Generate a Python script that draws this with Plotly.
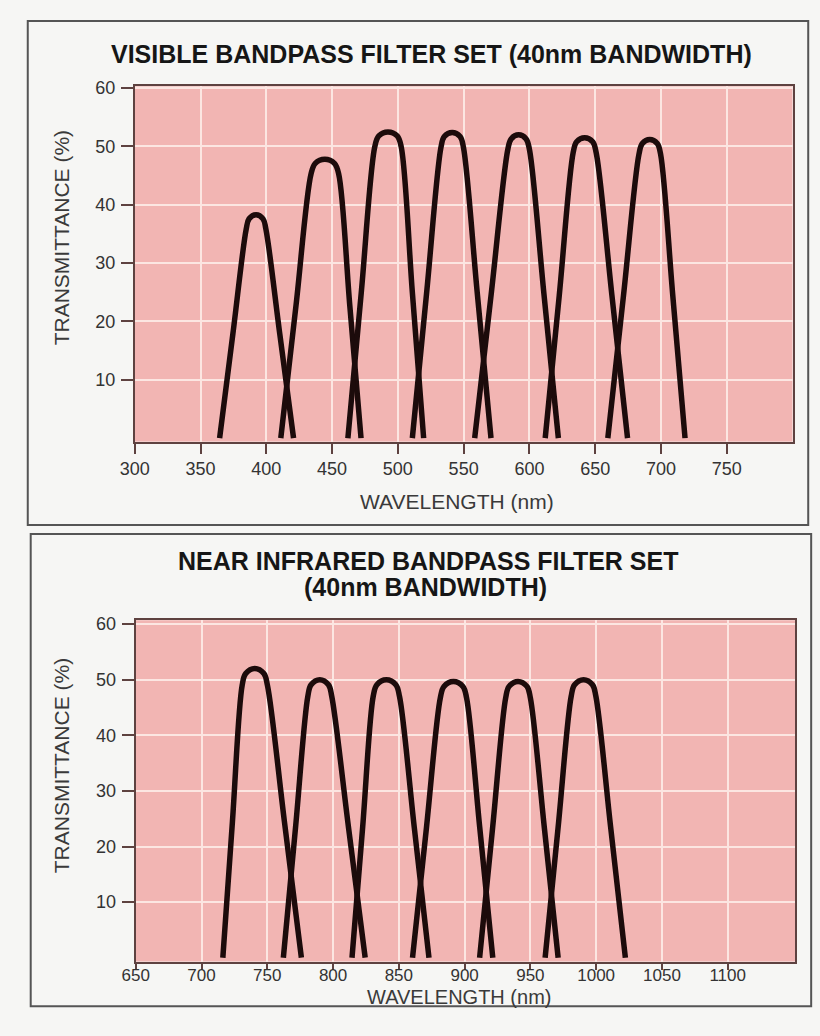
import plotly.graph_objects as go

W, H = 820, 1036

# ---------------- data ----------------
vis_ticks = [300, 350, 400, 450, 500, 550, 600, 650, 700, 750]
nir_ticks = [650, 700, 750, 800, 850, 900, 950, 1000, 1050, 1100]
y_ticks = [10, 20, 30, 40, 50, 60]

# Visible filters (wavelength nm, transmittance %)
v1_x = [364.5, 374.6, 384.7, 386.9, 392.2, 397.5, 399.7, 410.2, 420.7]
v1_y = [0, 17.9, 35.8, 37.6, 38.3, 37.6, 35.8, 17.9, 0]
v2_x = [411.0, 422.5, 434.0, 437.2, 444.5, 451.8, 455.0, 463.5, 472.0]
v2_y = [0, 22.6, 45.3, 47.1, 47.8, 47.1, 45.3, 22.6, 0]
v3_x = [462.0, 472.2, 482.5, 485.5, 492.5, 499.5, 502.5, 511.0, 519.6]
v3_y = [0, 25.0, 50.0, 51.8, 52.5, 51.8, 50.0, 25.0, 0]
v4_x = [511.0, 521.9, 532.8, 535.3, 541.3, 547.3, 549.8, 560.3, 570.8]
v4_y = [0, 25.0, 49.9, 51.7, 52.4, 51.7, 49.9, 25.0, 0]
v5_x = [558.4, 571.0, 583.6, 586.1, 591.8, 597.5, 600.0, 611.0, 622.0]
v5_y = [0, 24.8, 49.5, 51.3, 52.0, 51.3, 49.5, 24.8, 0]
v6_x = [612.0, 622.7, 633.3, 635.9, 642.0, 648.1, 650.7, 662.7, 674.6]
v6_y = [0, 24.5, 49.0, 50.8, 51.5, 50.8, 49.0, 24.5, 0]
v7_x = [659.6, 671.5, 683.3, 685.8, 691.5, 697.2, 699.7, 709.0, 718.3]
v7_y = [0, 24.4, 48.7, 50.5, 51.2, 50.5, 48.7, 24.4, 0]

# Near infrared filters
n1_x = [716.2, 723.5, 730.9, 733.6, 740.5, 747.4, 750.1, 763.0, 775.9]
n1_y = [0, 24.5, 49.0, 51.1, 52.0, 51.1, 49.0, 24.5, 0]
n2_x = [762.2, 771.5, 780.8, 783.3, 789.9, 796.5, 799.0, 811.7, 824.4]
n2_y = [0, 23.5, 47.0, 49.1, 50.0, 49.1, 47.0, 23.5, 0]
n3_x = [814.4, 822.5, 830.5, 833.3, 840.5, 847.7, 850.5, 861.7, 872.9]
n3_y = [0, 23.5, 47.0, 49.1, 50.0, 49.1, 47.0, 23.5, 0]
n4_x = [860.4, 871.0, 881.5, 884.3, 891.5, 898.7, 901.5, 911.5, 921.4]
n4_y = [0, 23.4, 46.7, 48.8, 49.7, 48.8, 46.7, 23.4, 0]
n5_x = [911.4, 921.3, 931.2, 933.8, 940.6, 947.4, 950.0, 960.6, 971.1]
n5_y = [0, 23.4, 46.7, 48.8, 49.7, 48.8, 46.7, 23.4, 0]
n6_x = [961.2, 971.1, 981.0, 983.6, 990.4, 997.2, 999.8, 1011.0, 1022.2]
n6_y = [0, 23.5, 47.0, 49.1, 50.0, 49.1, 47.0, 23.5, 0]

vis_curves = [(v1_x, v1_y), (v2_x, v2_y), (v3_x, v3_y), (v4_x, v4_y),
              (v5_x, v5_y), (v6_x, v6_y), (v7_x, v7_y)]
nir_curves = [(n1_x, n1_y), (n2_x, n2_y), (n3_x, n3_y), (n4_x, n4_y),
              (n5_x, n5_y), (n6_x, n6_y)]

title_top = "VISIBLE BANDPASS FILTER SET (40nm BANDWIDTH)"
title_bot1 = "NEAR INFRARED BANDPASS FILTER SET"
title_bot2 = "(40nm BANDWIDTH)"
x_title = "WAVELENGTH (nm)"
y_title = "TRANSMITTANCE (%)"

# ---------------- style ----------------
LINE = "#1c0b0b"
PLOT_BG = "#f2b5b3"
GRID = "#fce6e2"
AXIS = "#5e4240"
TICKFONT = dict(family="Liberation Sans, Arial, sans-serif", size=18, color="#333333")
TICKFONT_B = dict(family="Liberation Sans, Arial, sans-serif", size=17, color="#333333")
TITLEFONT = dict(family="Liberation Sans, Arial, sans-serif",
                 size=25, color="#161616", weight="bold")
AXTITLEFONT = dict(family="Liberation Sans, Arial, sans-serif", size=21, color="#3a3a3a")
AXTITLEFONT_B = dict(family="Liberation Sans, Arial, sans-serif", size=20, color="#3a3a3a")


def px_x(p):
    return p / W


def px_y(p):
    return 1 - p / H


fig = go.Figure()
for cx, cy in vis_curves:
    fig.add_trace(go.Scatter(x=cx, y=cy, mode="lines", xaxis="x", yaxis="y",
                             line=dict(color=LINE, width=5.5, shape="spline", smoothing=1.0),
                             hoverinfo="skip", showlegend=False))
for cx, cy in nir_curves:
    fig.add_trace(go.Scatter(x=cx, y=cy, mode="lines", xaxis="x2", yaxis="y2",
                             line=dict(color=LINE, width=5.5, shape="spline", smoothing=1.0),
                             hoverinfo="skip", showlegend=False))

axis_common = dict(showline=True, mirror=True, linecolor=AXIS, linewidth=2,
                   showgrid=True, gridcolor=GRID, gridwidth=2, zeroline=False,
                   ticks="outside", tickcolor=AXIS, tickwidth=1.5, fixedrange=True)

fig.update_layout(
    width=W, height=H,
    margin=dict(l=0, r=0, t=0, b=0),
    paper_bgcolor="#f6f6f4",
    plot_bgcolor=PLOT_BG,
    showlegend=False,
    xaxis=dict(domain=[px_x(122), px_x(792)], range=[300, 800], anchor="y",
               tickvals=vis_ticks, ticktext=[str(v) for v in vis_ticks],
               ticklen=10, ticklabelstandoff=0, tickfont=TICKFONT, **axis_common),
    yaxis=dict(domain=[px_y(437), px_y(79)], range=[-0.6, 60.3], anchor="x",
               tickvals=y_ticks, ticktext=[str(v) for v in y_ticks],
               ticklen=12, ticklabelstandoff=2, tickfont=TICKFONT, **axis_common),
    xaxis2=dict(domain=[px_x(123), px_x(795)], range=[650, 1151.5], anchor="y2",
                tickvals=nir_ticks, ticktext=[str(v) for v in nir_ticks],
                ticklen=6, ticklabelstandoff=-9, tickfont=TICKFONT_B, **axis_common),
    yaxis2=dict(domain=[px_y(961), px_y(617)], range=[-0.7, 60.7], anchor="x2",
                tickvals=y_ticks, ticktext=[str(v) for v in y_ticks],
                ticklen=12, ticklabelstandoff=2, tickfont=TICKFONT, **axis_common),
)

# panel frames
for (x0, y0, x1, y1) in [(13, 13, 808, 521), (16, 530, 811, 1006)]:
    fig.add_shape(type="rect", xref="paper", yref="paper",
                  x0=px_x(x0), x1=px_x(x1), y0=px_y(y1), y1=px_y(y0),
                  line=dict(color="#555555", width=2), fillcolor="rgba(0,0,0,0)", layer="below")

ann = []
ann.append(dict(text=title_top, x=px_x(424), y=px_y(46), font=TITLEFONT))
ann.append(dict(text=title_bot1, x=px_x(421), y=px_y(557), font=TITLEFONT))
ann.append(dict(text=title_bot2, x=px_x(418), y=px_y(584), font=TITLEFONT))
ann.append(dict(text=x_title, x=px_x(450), y=px_y(497), font=AXTITLEFONT))
ann.append(dict(text=x_title, x=px_x(452), y=px_y(997), font=AXTITLEFONT_B))
ann.append(dict(text=y_title, x=px_x(47), y=px_y(232), font=AXTITLEFONT, textangle=-90))
ann.append(dict(text=y_title, x=px_x(47), y=px_y(764), font=AXTITLEFONT, textangle=-90))
for a in ann:
    a.update(xref="paper", yref="paper", showarrow=False, xanchor="center", yanchor="middle")
    fig.add_annotation(**a)

fig.write_html("out.html")
